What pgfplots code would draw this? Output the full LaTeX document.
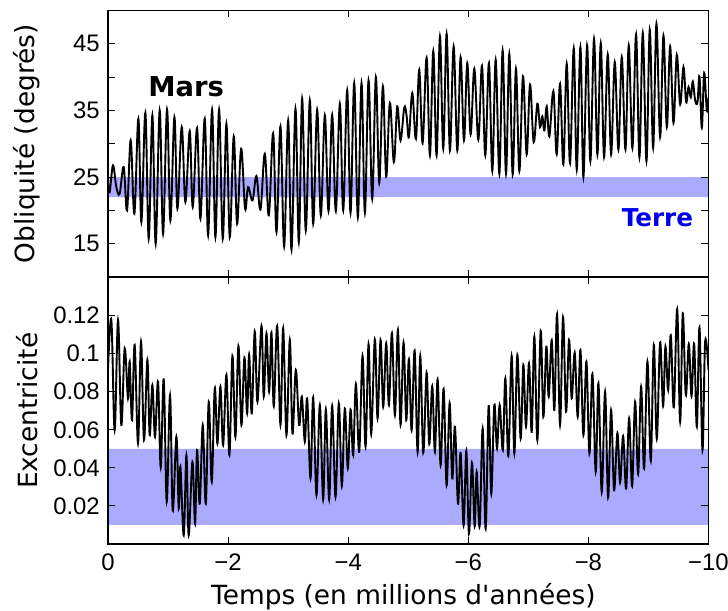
\documentclass[border=0pt]{standalone}
\usepackage{fontspec}
\setmainfont{DejaVu Sans}[Ligatures=TeXOff]
\newfontfamily\tickfont{Liberation Sans}
\usepackage{pgfplots}
\pgfplotsset{compat=1.18}
\definecolor{band}{RGB}{170,170,255}
\definecolor{terre}{RGB}{0,0,240}
\pgfplotsset{
  panel/.style={
    scale only axis, width=600.5bp, height=266.5bp,
    x dir=reverse, xmin=-10, xmax=0,
    xtick={0,-2,-4,-6,-8,-10},
    tick align=inside, major tick length=7bp,
    tick style={line width=1.1bp, black},
    axis line style={line width=1.6bp},
    /pgf/number format/assume math mode=true,
    tick label style={font=\fontsize{24}{28}\tickfont},
    yticklabel style={anchor=east, inner sep=0pt, xshift=-8bp},
    label style={font=\fontsize{26.5}{30}\selectfont},
    axis on top,
  },
  curve/.style={black, line width=1.9bp, smooth, tension=0.6, mark=none},
}
\begin{document}
\begin{tikzpicture}
\useasboundingbox (0,0) rectangle (728bp,611bp);
% ---------------- top panel: obliquity
\begin{axis}[panel, at={(108bp,334bp)}, anchor=south west,
  ymin=10, ymax=50,
  ytick={15,20,25,30,35,40,45}, yticklabels={15,,25,,35,,45},
  xticklabels={},
  ylabel={Obliquité (degrés)},
  ylabel style={at={(axis description cs:-0.123,0.5)}, anchor=base},
]
\addplot[draw=none, fill=band] coordinates {(0,22) (-10,22) (-10,25) (0,25) (0,22)};
\addplot[curve] coordinates {
(0,24.25) (-0.028,22.75) (-0.083,26.75) (-0.139,23.5) (-0.194,22.5) (-0.261,26.5)
(-0.317,20) (-0.378,30.5) (-0.439,19.5) (-0.506,33.75) (-0.556,18.25) (-0.622,34.65)
(-0.678,15.75) (-0.739,34.25) (-0.794,15) (-0.861,35) (-0.917,16.5) (-0.983,35.15)
(-1.039,18.5) (-1.106,34) (-1.156,20.25) (-1.228,32.5) (-1.289,21.25) (-1.361,31.9)
(-1.411,20.5) (-1.483,32.35) (-1.539,18.75) (-1.611,33.75) (-1.667,16.25) (-1.733,35.1)
(-1.789,16) (-1.850,35.1) (-1.911,15.75) (-1.972,33) (-2.028,16) (-2.094,31.1)
(-2.150,18) (-2.217,29.25) (-2.283,20.25) (-2.333,23.5) (-2.406,21.5) (-2.472,25.15)
(-2.539,20.1) (-2.611,28.5) (-2.678,19.25) (-2.750,31.6) (-2.806,16.75) (-2.872,32.6)
(-2.933,14.6) (-3.000,33.5) (-3.056,14.1) (-3.122,35.25) (-3.178,15.25) (-3.233,36.75)
(-3.294,17) (-3.361,36.5) (-3.417,18) (-3.483,35.1) (-3.544,19.25) (-3.611,34.25)
(-3.672,19.9) (-3.733,34.35) (-3.794,19.9) (-3.861,36) (-3.917,20) (-3.983,38)
(-4.039,19.65) (-4.100,39.1) (-4.161,19) (-4.222,39.1) (-4.278,19.65) (-4.339,39.5)
(-4.400,21.75) (-4.461,40) (-4.517,24.1) (-4.578,38.6) (-4.633,25.1) (-4.694,36.15)
(-4.761,27.25) (-4.817,35.6) (-4.872,30.5) (-4.933,35.4) (-4.972,34.25) (-5.011,31)
(-5.067,37.6) (-5.128,30.75) (-5.183,41.1) (-5.239,30.1) (-5.306,42.9) (-5.361,28.25)
(-5.417,43.9) (-5.472,28.25) (-5.528,46.1) (-5.583,29.25) (-5.639,46.5) (-5.694,29)
(-5.756,44.6) (-5.817,29) (-5.872,43) (-5.928,30.5) (-5.983,42.1) (-6.039,31.4)
(-6.100,41.25) (-6.167,30.6) (-6.228,41.7) (-6.283,28.25) (-6.344,42.1) (-6.400,25.9)
(-6.456,42.6) (-6.517,25.5) (-6.572,44) (-6.628,25.5) (-6.683,43.5) (-6.739,25.4)
(-6.794,41.25) (-6.850,25.9) (-6.911,40.1) (-6.972,28.4) (-7.028,38.9) (-7.089,30.25)
(-7.150,36) (-7.194,32.5) (-7.233,34.1) (-7.267,32) (-7.306,35.6) (-7.350,31.1)
(-7.417,37.9) (-7.472,28.4) (-7.528,39) (-7.583,26.9) (-7.639,42) (-7.694,27.1)
(-7.756,44.35) (-7.806,26.1) (-7.867,44.5) (-7.917,25) (-7.978,44.75) (-8.033,27.4)
(-8.094,45.75) (-8.150,28.4) (-8.206,45.1) (-8.261,28) (-8.322,43.4) (-8.378,28.4)
(-8.439,42.25) (-8.500,29.15) (-8.556,43) (-8.617,29.15) (-8.672,44.75) (-8.733,29.35)
(-8.794,46.4) (-8.850,28) (-8.906,46.6) (-8.967,27.4) (-9.022,47.1) (-9.078,29.4)
(-9.133,48) (-9.194,31) (-9.250,46.25) (-9.306,32.5) (-9.361,44.6) (-9.417,33.1)
(-9.472,43.35) (-9.528,35.9) (-9.583,41.5) (-9.628,36.25) (-9.667,38.5) (-9.706,37)
(-9.739,39.35) (-9.778,36.5) (-9.817,36.25) (-9.850,40.1) (-9.889,32.4) (-9.928,40.6)
(-9.972,35) (-10,37)
};
\node[font=\fontsize{27.5}{30}\bfseries\selectfont] at (axis cs:-1.3,38.6) {Mars};
\node[font=\fontsize{24.7}{28}\bfseries\selectfont, text=terre] at (axis cs:-9.15,18.9) {Terre};
\end{axis}
% ---------------- bottom panel: eccentricity
\begin{axis}[panel, at={(108bp,67bp)}, anchor=south west,
  ymin=0, ymax=0.14,
  ytick={0.02,0.04,0.06,0.08,0.1,0.12}, yticklabels={0.02,0.04,0.06,0.08,0.1,0.12},
  xticklabels={0,−2,−4,−6,−8,−10},
  xticklabel style={anchor=base, yshift=-26bp},
  ylabel={Excentricité},
  ylabel style={at={(axis description cs:-0.118,0.5)}, anchor=base},
  xlabel={Temps (en millions d'années)},
  xlabel style={at={(axis description cs:0.492,-0.227)}, anchor=base},
]
\addplot[draw=none, fill=band] coordinates {(0,0.01) (-10,0.01) (-10,0.05) (0,0.05) (0,0.01)};
\addplot[curve] coordinates {
(0,0.0914) (-0.056,0.1177) (-0.111,0.0598) (-0.167,0.1177) (-0.222,0.0625) (-0.278,0.1028)
(-0.333,0.0765) (-0.361,0.0958) (-0.400,0.0651) (-0.444,0.1046) (-0.500,0.0528) (-0.550,0.1063)
(-0.600,0.0546) (-0.656,0.0967) (-0.694,0.0572) (-0.739,0.0835) (-0.783,0.0563) (-0.833,0.0853)
(-0.878,0.0402) (-0.928,0.0865) (-0.978,0.0221) (-1.033,0.0782) (-1.078,0.0177) (-1.139,0.0563)
(-1.178,0.0186) (-1.206,0.0405) (-1.261,0.0046) (-1.306,0.0467) (-1.344,0.0046) (-1.406,0.0432)
(-1.450,0.0107) (-1.483,0.0493) (-1.528,0.0212) (-1.578,0.0625) (-1.628,0.0212) (-1.678,0.0747)
(-1.728,0.0326) (-1.778,0.0818) (-1.822,0.0528) (-1.872,0.0826) (-1.917,0.0519) (-1.972,0.0888)
(-2.022,0.0467) (-2.072,0.0988) (-2.122,0.0563) (-2.172,0.1040) (-2.222,0.0625) (-2.272,0.0979)
(-2.317,0.0686) (-2.350,0.0996) (-2.394,0.0686) (-2.444,0.1116) (-2.489,0.0747) (-2.556,0.1146)
(-2.594,0.0774) (-2.639,0.1107) (-2.683,0.0800) (-2.722,0.1111) (-2.761,0.0725) (-2.817,0.1146)
(-2.872,0.0625) (-2.917,0.1133) (-2.972,0.0572) (-3.028,0.1072) (-3.072,0.0581) (-3.128,0.0914)
(-3.183,0.0625) (-3.228,0.0774) (-3.278,0.0537) (-3.317,0.0765) (-3.372,0.0344) (-3.417,0.0770)
(-3.472,0.0256) (-3.528,0.0730) (-3.583,0.0233) (-3.628,0.0707) (-3.683,0.0233) (-3.733,0.0725)
(-3.789,0.0247) (-3.844,0.0739) (-3.894,0.0304) (-3.944,0.0712) (-3.994,0.0396) (-4.039,0.0707)
(-4.083,0.0467) (-4.128,0.0840) (-4.183,0.0484) (-4.239,0.0988) (-4.289,0.0511) (-4.339,0.1051)
(-4.383,0.0577) (-4.444,0.1075) (-4.489,0.0660) (-4.539,0.1072) (-4.583,0.0721) (-4.633,0.1054)
(-4.678,0.0730) (-4.728,0.1107) (-4.778,0.0677) (-4.828,0.1125) (-4.872,0.0625) (-4.922,0.1058)
(-4.967,0.0651) (-5.011,0.0970) (-5.056,0.0598) (-5.106,0.1016) (-5.156,0.0484) (-5.200,0.0988)
(-5.250,0.0479) (-5.306,0.0900) (-5.350,0.0525) (-5.400,0.0830) (-5.444,0.0484) (-5.489,0.0865)
(-5.539,0.0414) (-5.589,0.0814) (-5.639,0.0309) (-5.689,0.0739) (-5.733,0.0344) (-5.778,0.0616)
(-5.828,0.0212) (-5.872,0.0479) (-5.922,0.0098) (-5.967,0.0489) (-6.011,0.0054) (-6.061,0.0426)
(-6.106,0.0093) (-6.139,0.0379) (-6.189,0.0093) (-6.239,0.0607) (-6.289,0.0081) (-6.339,0.0725)
(-6.383,0.0265) (-6.433,0.0730) (-6.478,0.0502) (-6.522,0.0730) (-6.575,0.0493) (-6.617,0.0870)
(-6.667,0.0461) (-6.722,0.0988) (-6.767,0.0475) (-6.817,0.0993) (-6.872,0.0554) (-6.917,0.0940)
(-6.961,0.0616) (-7.011,0.0949) (-7.056,0.0589) (-7.100,0.1089) (-7.150,0.0546) (-7.206,0.1119)
(-7.250,0.0668) (-7.300,0.1037) (-7.339,0.0774) (-7.389,0.1072) (-7.433,0.0704) (-7.478,0.1207)
(-7.528,0.0625) (-7.578,0.1191) (-7.628,0.0695) (-7.678,0.1072) (-7.722,0.0765) (-7.772,0.1005)
(-7.822,0.0668) (-7.867,0.1019) (-7.917,0.0572) (-7.967,0.0958) (-8.017,0.0475) (-8.067,0.0893)
(-8.122,0.0379) (-8.167,0.0844) (-8.222,0.0274) (-8.278,0.0800) (-8.328,0.0244) (-8.378,0.0704)
(-8.428,0.0282) (-8.483,0.0584) (-8.528,0.0321) (-8.578,0.0567) (-8.628,0.0291) (-8.678,0.0660)
(-8.728,0.0304) (-8.778,0.0747) (-8.828,0.0367) (-8.878,0.0826) (-8.928,0.0396) (-8.983,0.0958)
(-9.039,0.0437) (-9.089,0.1046) (-9.139,0.0554) (-9.194,0.1058) (-9.244,0.0725) (-9.283,0.1037)
(-9.328,0.0809) (-9.372,0.1098) (-9.422,0.0718) (-9.478,0.1233) (-9.528,0.0642) (-9.572,0.1212)
(-9.622,0.0782) (-9.672,0.1051) (-9.717,0.0777) (-9.761,0.1051) (-9.806,0.0616) (-9.850,0.1137)
(-9.900,0.0493) (-9.944,0.1063) (-10,0.0914)
};
\end{axis}
\end{tikzpicture}
\end{document}
